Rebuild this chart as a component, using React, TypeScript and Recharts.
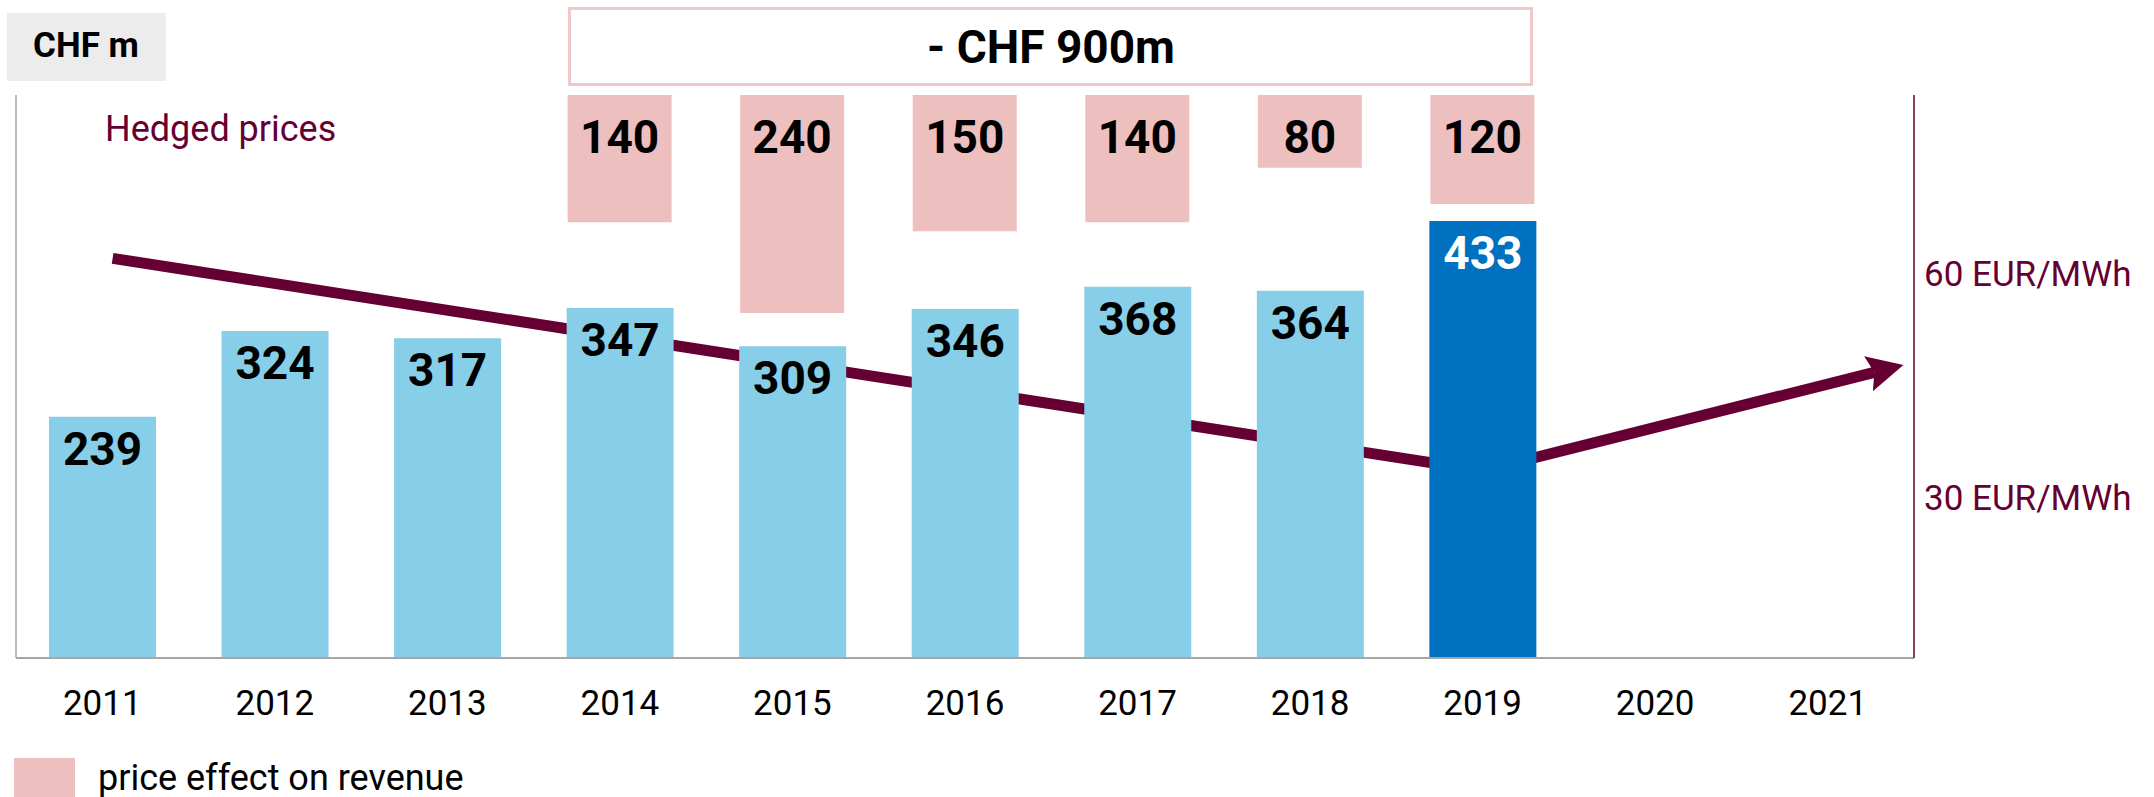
import React from 'react';
import { ComposedChart, Bar, Line, XAxis, YAxis, LabelList, Cell } from 'recharts';

// ---------- data ----------
const years = [2011, 2012, 2013, 2014, 2015, 2016, 2017, 2018, 2019, 2020, 2021];
const revenue = [239, 324, 317, 347, 309, 346, 368, 364, 433, null, null];
const priceEffect = [null, null, null, 140, 240, 150, 140, 80, 120, null, null];
const latestYear = 2019;

// hedged price trend (EUR/MWh), arrow from 2011 down to 2019 and up towards 2021
const hedgedPriceYears = [2011.06, 2019, 2021.27];
const hedgedPrices = [62.1, 33.6, 46.8];
const priceTicks = [30, 60];

const unitLabel = 'CHF m';
const totalEffectLabel = '- CHF 900m';
const lineLabel = 'Hedged prices';
const legendLabel = 'price effect on revenue';
const priceUnit = 'EUR/MWh';

// ---------- styles ----------
const FONT = 'Roboto, "Open Sans", "DejaVu Sans", sans-serif';
const W = 2154;
const H = 797;
const LIGHT = '#87CEE8';
const DARK = '#0070C0';
const PINK = '#EEBFBF';
const PINK_BORDER = '#F2C7C7';
const MAROON = '#660033';
const GRAY = '#A6A6A6';

const data = years.map((y, i) => ({ year: y, revenue: revenue[i], effect: priceEffect[i] }));
const lineData = hedgedPriceYears.map((y, i) => ({ year: y, price: hedgedPrices[i] }));

const RevenueLabel = (props: any) => {
  const { x, y, width, value, index } = props;
  if (value == null) return null;
  const isLatest = index != null ? data[index].year === latestYear : value === revenue[8];
  return (
    <text
      x={Number(x) + Number(width) / 2}
      y={Number(y) + 48}
      textAnchor="middle"
      fontSize={46}
      fontWeight={700}
      fontFamily={FONT}
      fill={isLatest ? '#FFFFFF' : '#000000'}
    >
      {value}
    </text>
  );
};

const EffectLabel = (props: any) => {
  const { x, y, width, height, value } = props;
  if (value == null) return null;
  const top = Math.min(Number(y), Number(y) + Number(height));
  return (
    <text
      x={Number(x) + Number(width) / 2}
      y={top + 58}
      textAnchor="middle"
      fontSize={46}
      fontWeight={700}
      fontFamily={FONT}
      fill="#000000"
    >
      {value}
    </text>
  );
};

export default function App() {
  return (
    <div
      style={{
        position: 'absolute',
        left: 0,
        top: 0,
        width: W,
        height: H,
        overflow: 'hidden',
        background: '#fff',
        fontFamily: FONT,
      }}
    >
      <svg width={0} height={0} style={{ position: 'absolute' }}>
        <defs>
          <marker
            id="hedgeArrow"
            viewBox="0 -20 40 40"
            refX={6}
            refY={0}
            markerWidth={40}
            markerHeight={40}
            markerUnits="userSpaceOnUse"
            orient="auto"
          >
            <path d="M0,-18 L36,0 L0,18 L6,0 Z" fill={MAROON} />
          </marker>
        </defs>
      </svg>

      <ComposedChart
        width={W}
        height={H}
        data={data}
        margin={{ top: 95, right: 0, bottom: 59, left: 0 }}
      >
        <XAxis
          xAxisId="main"
          dataKey="year"
          type="number"
          domain={[2010.5, 2021.5]}
          ticks={years}
          interval={0}
          tickFormatter={(v: number) => String(v)}
          height={80}
          tickLine={false}
          tickSize={0}
          tickMargin={32}
          axisLine={{ stroke: GRAY, strokeWidth: 2 }}
          tick={{ fontSize: 35, fill: '#000', fontFamily: FONT }}
        />
        <XAxis xAxisId="effect" dataKey="year" type="number" domain={[2010.5, 2021.5]} height={0} hide />
        <XAxis xAxisId="line" dataKey="year" type="number" domain={[2010.5, 2021.5]} height={0} hide />

        <YAxis
          yAxisId="rev"
          domain={[0, 558]}
          width={16}
          tick={false}
          tickLine={false}
          axisLine={{ stroke: GRAY, strokeWidth: 1.5 }}
        />
        <YAxis yAxisId="effect" domain={[0, 620]} reversed width={0} hide />
        <YAxis
          yAxisId="price"
          orientation="right"
          type="number"
          domain={[8.46, 84.03]}
          ticks={priceTicks}
          interval={0}
          width={240}
          tickLine={false}
          tickSize={0}
          tickMargin={10}
          tickFormatter={(v: number) => `${v} ${priceUnit}`}
          axisLine={{ stroke: MAROON, strokeWidth: 1.5 }}
          tick={{ fontSize: 35, fill: MAROON, fontFamily: FONT }}
        />

        <Line
          xAxisId="line"
          yAxisId="price"
          data={lineData}
          dataKey="price"
          type="linear"
          stroke={MAROON}
          strokeWidth={11}
          dot={false}
          activeDot={false}
          markerEnd="url(#hedgeArrow)"
          isAnimationActive={false}
          zIndex={100}
        />

        <Bar
          xAxisId="effect"
          yAxisId="effect"
          dataKey="effect"
          barSize={104}
          fill={PINK}
          isAnimationActive={false}
        >
          <LabelList dataKey="effect" content={EffectLabel} />
        </Bar>

        <Bar
          xAxisId="main"
          yAxisId="rev"
          dataKey="revenue"
          barSize={107}
          isAnimationActive={false}
        >
          {data.map((d) => (
            <Cell key={d.year} fill={d.year === latestYear ? DARK : LIGHT} />
          ))}
          <LabelList dataKey="revenue" content={RevenueLabel} />
        </Bar>
      </ComposedChart>

      <svg
        width={W}
        height={H}
        style={{ position: 'absolute', left: 0, top: 0, pointerEvents: 'none' }}
      >
        <rect x={7} y={13} width={159} height={68} fill="#ECECEC" />
        <text x={86} y={57} textAnchor="middle" fontSize={35} fontWeight={700} fontFamily={FONT} fill="#000">
          {unitLabel}
        </text>

        <rect x={569.5} y={8.5} width={962} height={76} fill="#fff" stroke={PINK_BORDER} strokeWidth={3} />
        <text x={1051} y={63} textAnchor="middle" fontSize={46} fontWeight={700} fontFamily={FONT} fill="#000">
          {totalEffectLabel}
        </text>

        <text x={105} y={141} fontSize={36} fontFamily={FONT} fill={MAROON}>
          {lineLabel}
        </text>

        <rect x={14} y={758} width={61} height={39} fill={PINK} />
        <text x={98} y={790} fontSize={36} fontFamily={FONT} fill="#000">
          {legendLabel}
        </text>
      </svg>
    </div>
  );
}
